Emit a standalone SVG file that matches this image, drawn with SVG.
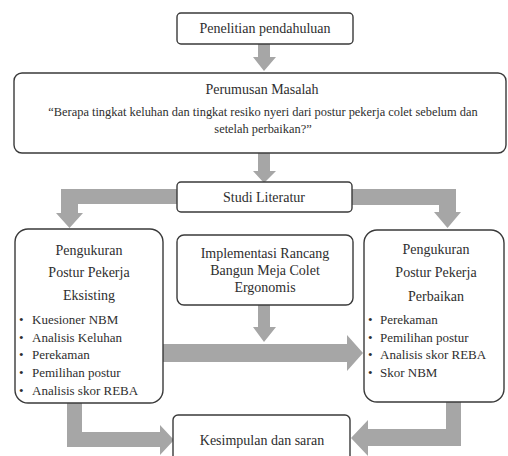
<svg xmlns="http://www.w3.org/2000/svg" width="508" height="456" viewBox="0 0 508 456">
<style>
.box{fill:#fff;stroke:#3a3a3a;stroke-width:1.4}
.t{font-family:"Liberation Serif","Times New Roman",serif;fill:#2e2e2e;font-size:14px}
.c{text-anchor:middle}
.s{font-size:13px}
.q{font-size:12.4px}
.arr{fill:#a6a6a6;stroke:none}
</style>
<rect width="508" height="456" fill="#fff"/>
<g id="connectors">
<polygon class="arr" points="258,44 270,44 270,57 276,57 264,71 253,57 258,57"/>
<polygon class="arr" points="258,153 270,153 270,171 276,171 264,183 253,171 258,171"/>
<polygon class="arr" points="177,189 61,189 61,213 56,213 69.5,228 83,213 78,213 78,204 177,204"/>
<polygon class="arr" points="352,189 456,189 456,212 461,212 447.5,228 434,212 439,212 439,205 352,205"/>
<polygon class="arr" points="258,305 270,305 270,327 276,327 264,342 253,327 258,327"/>
<polygon class="arr" points="163,344 347,344 347,335 363,353 347,371 347,362 163,362"/>
<polygon class="arr" points="67,403 82,403 82,432 160,432 160,425 174,440 160,455 160,447 67,447"/>
<polygon class="arr" points="446,402 461,402 461,446 368,446 368,456 351,438 368,420 368,429 446,429"/>
</g>
<g id="n1">
<rect class="box" x="177" y="13" width="176" height="31" rx="4"/>
<text class="t c" x="265" y="33">Penelitian pendahuluan</text>
</g>
<g id="n2">
<rect class="box" x="14" y="73" width="492" height="80" rx="8"/>
<text class="t c" x="262" y="94">Perumusan Masalah</text>
<text class="t c q" x="263" y="116">“Berapa tingkat keluhan dan tingkat resiko nyeri dari postur pekerja colet sebelum dan</text>
<text class="t c q" x="263" y="133">setelah perbaikan?”</text>
</g>
<g id="n3">
<rect class="box" x="177" y="182" width="175" height="30" rx="4"/>
<text class="t c" x="264" y="202">Studi Literatur</text>
</g>
<g id="n4">
<rect class="box" x="15" y="229" width="148" height="174" rx="13"/>
<text class="t c" x="89" y="255">Pengukuran</text>
<text class="t c" x="89" y="277">Postur Pekerja</text>
<text class="t c" x="89" y="300">Eksisting</text>
<text class="t s" x="19" y="324">•</text><text class="t s" x="32" y="324">Kuesioner NBM</text>
<text class="t s" x="19" y="342">•</text><text class="t s" x="32" y="342">Analisis Keluhan</text>
<text class="t s" x="19" y="359">•</text><text class="t s" x="32" y="359">Perekaman</text>
<text class="t s" x="19" y="377">•</text><text class="t s" x="32" y="377">Pemilihan postur</text>
<text class="t s" x="19" y="395">•</text><text class="t s" x="32" y="395">Analisis skor REBA</text>
</g>
<g id="n5">
<rect class="box" x="177" y="235" width="176" height="70" rx="7"/>
<text class="t c" x="265" y="258">Implementasi Rancang</text>
<text class="t c" x="265" y="275">Bangun Meja Colet</text>
<text class="t c" x="265" y="292">Ergonomis</text>
</g>
<g id="n6">
<rect class="box" x="364" y="230" width="140" height="172" rx="13"/>
<text class="t c" x="436" y="254">Pengukuran</text>
<text class="t c" x="436" y="277">Postur Pekerja</text>
<text class="t c" x="436" y="301">Perbaikan</text>
<text class="t s" x="368" y="324">•</text><text class="t s" x="380" y="324">Perekaman</text>
<text class="t s" x="368" y="342">•</text><text class="t s" x="380" y="342">Pemilihan postur</text>
<text class="t s" x="368" y="359">•</text><text class="t s" x="380" y="359">Analisis skor REBA</text>
<text class="t s" x="368" y="377">•</text><text class="t s" x="380" y="377">Skor NBM</text>
</g>
<g id="n7">
<rect class="box" x="173" y="415" width="177" height="50" rx="5"/>
<text class="t c" x="262" y="445">Kesimpulan dan saran</text>
</g>
</svg>
